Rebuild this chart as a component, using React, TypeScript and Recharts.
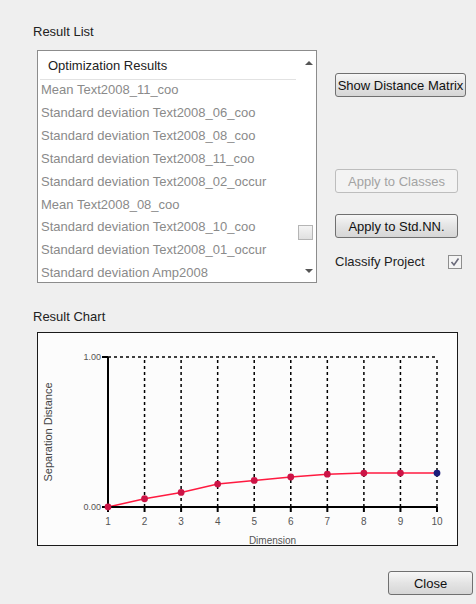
import React from 'react';
import { LineChart, Line, XAxis, YAxis, ReferenceLine } from 'recharts';

const dimensions = [1, 2, 3, 4, 5, 6, 7, 8, 9, 10];
const separationDistance = [0, 0.055, 0.097, 0.153, 0.177, 0.2, 0.219, 0.226, 0.226, 0.226];
const yTicks = [0, 1];
const gridX = [2, 3, 4, 5, 6, 7, 8, 9, 10];
const gridY = [1];
const listHeader = 'Optimization Results';
const resultItems = [
  'Mean Text2008_11_coo',
  'Standard deviation Text2008_06_coo',
  'Standard deviation Text2008_08_coo',
  'Standard deviation Text2008_11_coo',
  'Standard deviation Text2008_02_occur',
  'Mean Text2008_08_coo',
  'Standard deviation Text2008_10_coo',
  'Standard deviation Text2008_01_occur',
  'Standard deviation Amp2008',
];

const data = dimensions.map((d, i) => ({ dimension: d, distance: separationDistance[i] }));

const FONT = '"Liberation Sans", Arial, sans-serif';

const btn = (disabled?: boolean): React.CSSProperties => ({
  position: 'absolute',
  boxSizing: 'border-box',
  border: `1px solid ${disabled ? '#bdbdbd' : '#707070'}`,
  borderRadius: 3,
  background: disabled ? '#f3f3f3' : 'linear-gradient(#f7f7f7, #e4e4e4 50%, #d6d6d6)',
  color: disabled ? '#a3a3a3' : '#111',
  display: 'flex',
  alignItems: 'center',
  justifyContent: 'center',
  fontSize: 13,
  whiteSpace: 'nowrap',
});

const Dot = (props: any) => {
  const { cx, cy, index } = props;
  const last = index === data.length - 1;
  return <circle cx={cx} cy={cy} r={3.4} fill={last ? '#1c1c7a' : '#cc1446'} stroke="none" />;
};

export default function App() {
  return (
    <div
      style={{
        position: 'absolute',
        left: 0,
        top: 0,
        width: 476,
        height: 604,
        background: '#efefef',
        fontFamily: FONT,
        fontSize: 13,
        color: '#222',
        overflow: 'hidden',
      }}
    >
      <div style={{ position: 'absolute', left: 33, top: 24, lineHeight: '16px' }}>Result List</div>

      {/* list box */}
      <div
        style={{
          position: 'absolute',
          left: 37,
          top: 50,
          width: 280,
          height: 233,
          boxSizing: 'border-box',
          background: '#fff',
          border: '1px solid #8c8c8c',
        }}
      >
        <div style={{ position: 'absolute', left: 10, top: 7, lineHeight: '16px', color: '#222' }}>{listHeader}</div>
        <div style={{ position: 'absolute', left: 2, top: 28, width: 256, height: 1, background: '#e2e2e2' }} />
        {resultItems.map((t, i) => (
          <div
            key={t}
            style={{
              position: 'absolute',
              left: 3,
              top: 30 + i * 22.9,
              lineHeight: '18px',
              color: '#8a8a8a',
              whiteSpace: 'nowrap',
            }}
          >
            {t}
          </div>
        ))}
        {/* scroll arrows and thumb */}
        <svg style={{ position: 'absolute', left: 266, top: 8 }} width={10} height={8}>
          <path d="M1 6 L5 2 L9 6 Z" fill="#555" />
        </svg>
        <div
          style={{
            position: 'absolute',
            left: 260,
            top: 174,
            width: 15,
            height: 15,
            boxSizing: 'border-box',
            border: '1px solid #b5b5b5',
            background: 'linear-gradient(#f4f4f4, #e0e0e0)',
          }}
        />
        <svg style={{ position: 'absolute', left: 266, top: 216 }} width={10} height={8}>
          <path d="M1 2 L9 2 L5 6 Z" fill="#555" />
        </svg>
      </div>

      <div style={{ ...btn(), left: 335, top: 73, width: 131, height: 24 }}>Show Distance Matrix</div>
      <div style={{ ...btn(true), left: 335, top: 169, width: 123, height: 24 }}>Apply to Classes</div>
      <div style={{ ...btn(), left: 335, top: 214, width: 123, height: 24 }}>Apply to Std.NN.</div>
      <div style={{ position: 'absolute', left: 335, top: 254, lineHeight: '16px' }}>Classify Project</div>
      <svg style={{ position: 'absolute', left: 448, top: 255 }} width={14} height={14}>
        <rect x={0.5} y={0.5} width={13} height={13} fill="#f4f4f4" stroke="#8e8e8e" />
        <path d="M3.5 7 L6 10 L10.5 3.5" fill="none" stroke="#6a6a7a" strokeWidth={1.6} />
      </svg>

      <div style={{ position: 'absolute', left: 33, top: 309, lineHeight: '16px' }}>Result Chart</div>

      {/* chart box */}
      <div
        style={{
          position: 'absolute',
          left: 37,
          top: 332,
          width: 421,
          height: 214,
          boxSizing: 'border-box',
          border: '1px solid #1a1a1a',
          background: '#fcfcfc',
        }}
      >
        <LineChart
          width={419}
          height={212}
          data={data}
          margin={{ top: 24, right: 20, left: 0, bottom: 0 }}
          style={{ fontFamily: FONT }}
        >
          {gridY.map((v) => (
            <ReferenceLine key={'y' + v} y={v} stroke="#000" strokeDasharray="3 3" strokeWidth={1.5} />
          ))}
          {gridX.map((v) => (
            <ReferenceLine key={'x' + v} x={v} stroke="#000" strokeDasharray="3 3" strokeWidth={1.5} />
          ))}
          <XAxis
            dataKey="dimension"
            type="number"
            domain={[1, 10]}
            ticks={dimensions}
            height={38}
            axisLine={{ stroke: '#000', strokeWidth: 2 }}
            tickLine={{ stroke: '#000', strokeWidth: 2 }}
            tickSize={5}
            tickMargin={6}
            tick={{ fontSize: 10, fill: '#555' }}
            interval={0}
            label={{ value: 'Dimension', position: 'insideBottom', offset: 1, fontSize: 10, fill: '#555' }}
          />
          <YAxis
            type="number"
            domain={[0, 1]}
            ticks={yTicks}
            width={70}
            axisLine={{ stroke: '#000', strokeWidth: 2 }}
            tickLine={{ stroke: '#000', strokeWidth: 2 }}
            tickSize={6}
            tickMargin={1}
            tick={{ fontSize: 9, fill: '#555' }}
            tickFormatter={(v: number) => v.toFixed(2)}
            label={{
              value: 'Separation Distance',
              angle: -90,
              position: 'insideLeft',
              offset: 10,
              fontSize: 11,
              fill: '#444',
              style: { textAnchor: 'middle' },
            }}
          />
          <Line
            type="linear"
            dataKey="distance"
            stroke="#ff1a40"
            strokeWidth={1.5}
            dot={<Dot />}
            activeDot={false}
            isAnimationActive={false}
          />
        </LineChart>
      </div>

      <div style={{ ...btn(), left: 388, top: 571, width: 85, height: 24 }}>Close</div>
    </div>
  );
}
